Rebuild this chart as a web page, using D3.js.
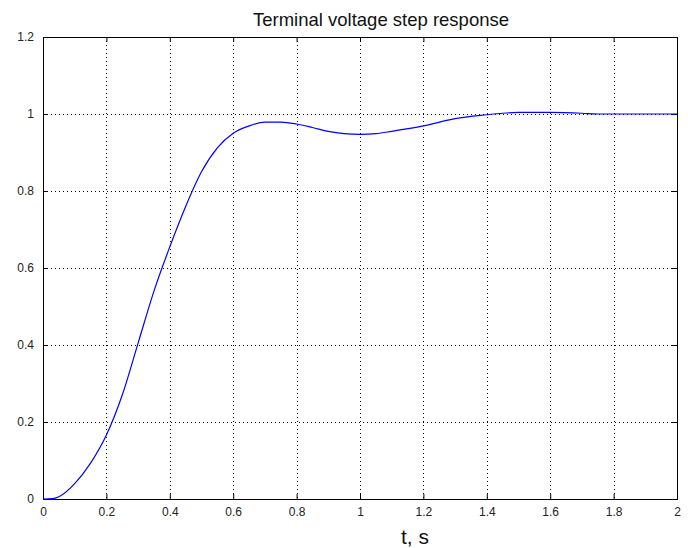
<!DOCTYPE html>
<html>
<head>
<meta charset="utf-8">
<script src="https://cdn.jsdelivr.net/npm/d3@7"></script>
<style>
  body { margin: 0; background: #fff; }
  svg text { font-family: Arial, "Liberation Sans", Helvetica, sans-serif; }
</style>
</head>
<body>
<div id="chart"></div>
<script>
// step response
var tVals = [0, 0.03, 0.05, 0.1, 0.15, 0.2, 0.25, 0.3, 0.35, 0.4, 0.45, 0.5, 0.55, 0.6, 0.65, 0.7, 0.75, 0.8, 0.85, 0.9, 0.95, 1.0, 1.05, 1.1, 1.2, 1.3, 1.4, 1.45, 1.5, 1.6, 1.7, 1.75, 1.8, 1.9, 2.0]
var vVals = [0, 0.001, 0.006, 0.04, 0.093, 0.166, 0.27, 0.405, 0.54, 0.655, 0.76, 0.85, 0.912, 0.95, 0.969, 0.979, 0.979, 0.974, 0.965, 0.955, 0.949, 0.947, 0.949, 0.955, 0.969, 0.988, 0.998, 1.002, 1.004, 1.004, 1.002, 1.0, 1.0, 1.0, 1.0]
var xTicks = [0, 0.2, 0.4, 0.6, 0.8, 1, 1.2, 1.4, 1.6, 1.8, 2]
var yTicks = [0, 0.2, 0.4, 0.6, 0.8, 1, 1.2]

var margin = { top: 37, right: 11, bottom: 49, left: 43 },
    width = 688 - margin.left - margin.right,
    height = 548 - margin.top - margin.bottom;

var svg = d3.select("#chart")
    .append("svg")
    .attr("width", 688)
    .attr("height", 548)
    .append("g")
    .attr("transform", "translate(" + margin.left + "," + margin.top + ")");

var x = d3.scaleLinear().domain([0, 2]).range([0, width]);
var y = d3.scaleLinear().domain([0, 1.2]).range([height, 0]);

// grid
svg.append("g")
    .selectAll("line")
    .data(xTicks.slice(1, -1))
    .enter()
    .append("line")
    .attr("x1", d => Math.round(x(d)) + 0.5)
    .attr("x2", d => Math.round(x(d)) + 0.5)
    .attr("y1", 0)
    .attr("y2", height)
    .attr("stroke", "#000")
    .attr("stroke-dasharray", "1,3");

svg.append("g")
    .selectAll("line")
    .data(yTicks.slice(1, -1))
    .enter()
    .append("line")
    .attr("y1", d => Math.round(y(d)) + 0.5)
    .attr("y2", d => Math.round(y(d)) + 0.5)
    .attr("x1", 0)
    .attr("x2", width)
    .attr("stroke", "#000")
    .attr("stroke-dasharray", "1,3");

// axes, ticks inward on all four sides
var tk = 5
function styleAxis(g) {
    g.select(".domain").remove()
    g.selectAll("line").attr("stroke", "#000")
    g.selectAll("text")
        .attr("fill", "#222")
        .style("font-size", "12px")
}

svg.append("g")
    .attr("transform", "translate(0," + height + ")")
    .call(d3.axisBottom(x).tickValues(xTicks).tickFormat(d3.format("")).tickSizeInner(-tk).tickPadding(8))
    .call(styleAxis);

svg.append("g")
    .call(d3.axisTop(x).tickValues(xTicks).tickFormat("").tickSizeInner(-tk))
    .call(styleAxis);

svg.append("g")
    .call(d3.axisLeft(y).tickValues(yTicks).tickFormat(d3.format("")).tickSizeInner(-tk).tickPadding(9))
    .call(styleAxis);

svg.append("g")
    .attr("transform", "translate(" + width + ",0)")
    .call(d3.axisRight(y).tickValues(yTicks).tickFormat("").tickSizeInner(-tk))
    .call(styleAxis);

svg.append("rect")
    .attr("x", 0.5)
    .attr("y", 0.5)
    .attr("width", width)
    .attr("height", height)
    .attr("fill", "none")
    .attr("stroke", "#000");

// curve
var line = d3.line()
    .x(d => x(d[0]))
    .y(d => y(d[1]))
    .curve(d3.curveMonotoneX);

svg.append("path")
    .datum(tVals.map((t, i) => [t, vVals[i]]))
    .attr("d", line)
    .attr("fill", "none")
    .attr("stroke", "#0000ff")
    .attr("stroke-width", 1.2);

// title + label
svg.append("text")
    .attr("x", 338)
    .attr("y", -11)
    .attr("text-anchor", "middle")
    .style("font-size", "18.5px")
    .attr("fill", "#111")
    .text("Terminal voltage step response");

svg.append("text")
    .attr("x", 372)
    .attr("y", 507)
    .attr("text-anchor", "middle")
    .style("font-size", "21px")
    .attr("fill", "#111")
    .text("t, s");
</script>
</body>
</html>
